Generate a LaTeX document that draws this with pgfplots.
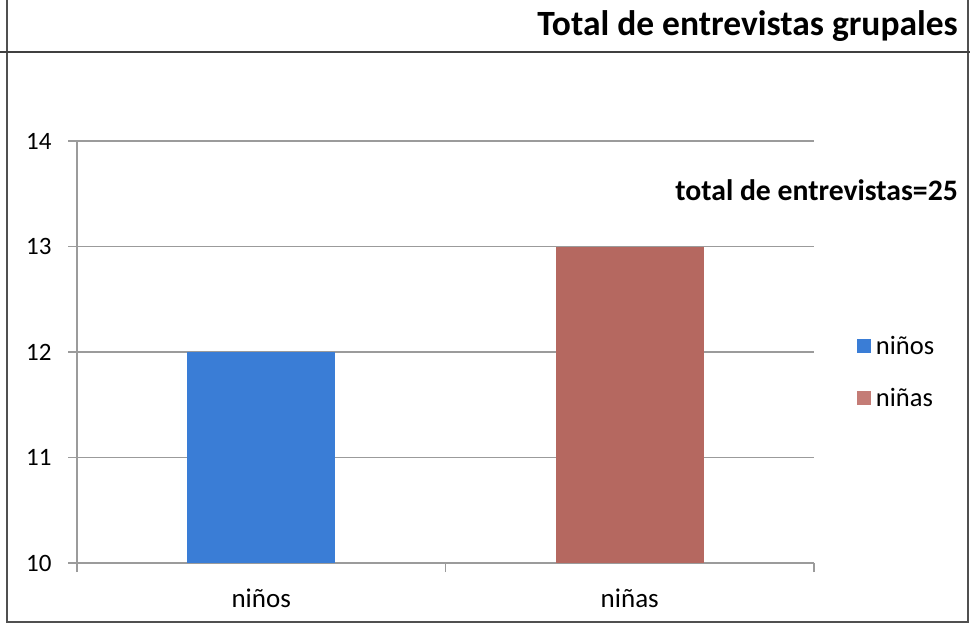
\documentclass[border=0pt]{standalone}
\usepackage{fontspec}
\setmainfont{Carlito}
\usepackage{pgfplots}
\pgfplotsset{compat=1.18}
\definecolor{barblue}{RGB}{58,125,214}
\definecolor{barred}{RGB}{181,104,96}
\definecolor{legred}{RGB}{196,124,118}
\definecolor{gridgray}{RGB}{155,155,155}
\definecolor{framegray}{RGB}{80,80,80}
\begin{document}
\begin{tikzpicture}[x=1pt,y=1pt]
\path[use as bounding box] (0,0) rectangle (970,625);
\draw[framegray, line width=2pt] (7,625) -- (7,3) -- (968,3) -- (968,625);
\draw[black!75, line width=2pt] (0,573) -- (970,573);
\node[anchor=base east, inner sep=0pt, font=\fontsize{35.5}{40}\selectfont\bfseries] at (958,589) {Total de entrevistas grupales};
\node[anchor=base east, inner sep=0pt, font=\fontsize{29.7}{34}\selectfont\bfseries] at (958,424) {total de entrevistas=25};
\begin{axis}[
  at={(77pt,62pt)}, anchor=south west,
  scale only axis, width=737pt, height=422pt,
  xmin=-0.5, xmax=1.5, ymin=10, ymax=14,
  axis x line*=bottom, axis y line*=left,
  axis line style={gridgray, line width=1.5pt},
  ymajorgrids, grid style={gridgray, line width=1.5pt},
  ytick={10,11,12,13,14},
  xtick={-0.5,0.5,1.5}, xticklabels={},
  extra x ticks={0,1}, extra x tick labels={niños,niñas},
  extra x tick style={major tick length=0pt,
    xticklabel style={yshift=-22pt, font=\fontsize{27}{32}\selectfont}},
  tick align=outside, major tick length=9pt,
  tick style={gridgray, line width=1.5pt},
  ticklabel style={font=\fontsize{25}{30}\selectfont},
  yticklabel style={xshift=-13pt},
  /pgf/number format/assume math mode=true,
  ybar,
  legend cell align=left,
  legend style={draw=none, fill=none, inner sep=0pt, outer sep=0pt,
    at={(1.0583,0.4526)}, anchor=west, row sep=32pt, column sep=5pt,
    font=\fontsize{26.5}{31}\selectfont, nodes={inner sep=0pt}},
]
\addplot[fill=barblue, draw=none, bar width=148pt, bar shift=0pt,
  legend image code/.code={\fill[barblue] (0pt,-7pt) rectangle (14pt,7pt);}]
  coordinates {(0,12)};
\addplot[fill=barred, draw=none, bar width=148pt, bar shift=0pt,
  legend image code/.code={\fill[legred] (0pt,-7pt) rectangle (14pt,7pt);}]
  coordinates {(1,13)};
\legend{niños,niñas}
\end{axis}
\end{tikzpicture}
\end{document}
